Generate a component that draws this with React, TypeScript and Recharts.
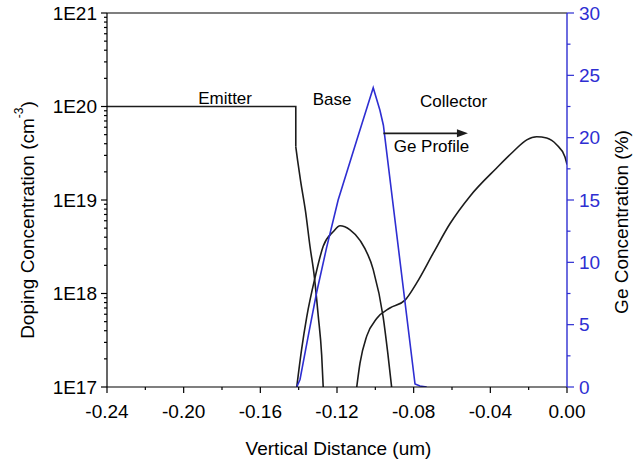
import React from 'react';
import { LineChart, Line, XAxis, YAxis, ReferenceLine, ReferenceDot } from 'recharts';

// doping profiles (x in um, concentration in cm^-3)
const emitterFlatX = [-0.24, -0.1415, -0.1415];
const emitterFlatConc = [1e20, 1e20, 3.7e19];
const emitterTailX = [-0.1415, -0.1405, -0.139, -0.1364, -0.1341, -0.1318, -0.1298, -0.128, -0.1272];
const emitterTailConc = [3.7e19, 2.6e19, 1.6e19, 7.5e18, 3.2e18, 1.5e18, 5.8e17, 2.2e17, 1e17];

const baseX = [-0.141, -0.1385, -0.1358, -0.1315, -0.1272, -0.1219, -0.1184, -0.1132, -0.108, -0.1011, -0.0959, -0.0935, -0.0915];
const baseConc = [1e17, 2.5e17, 5.6e17, 1.47e18, 3.2e18, 4.6e18, 5.3e18, 4.8e18, 3.7e18, 1.8e18, 5.6e17, 2.3e17, 1e17];

const collectorX = [-0.1097, -0.108, -0.1045, -0.0993, -0.0924, -0.0845, -0.0784, -0.0698, -0.061, -0.0506, -0.0367, -0.028, -0.021, -0.0158, -0.0106, -0.0054, -0.0011, 0];
const collectorConc = [1e17, 1.8e17, 3.5e17, 5.4e17, 7.0e17, 8.5e17, 1.3e18, 2.7e18, 5.6e18, 1.1e19, 2.2e19, 3.3e19, 4.4e19, 4.75e19, 4.6e19, 3.9e19, 2.9e19, 2.4e19];

// Ge profile (%)
const geX = [-0.141, -0.1393, -0.135, -0.1306, -0.1254, -0.1194, -0.1097, -0.1011, -0.0976, -0.0958, -0.0793, -0.0767, -0.0732];
const gePct = [0, 0.6, 4.1, 7.6, 11.2, 15, 19.8, 24, 22.2, 21, 0.24, 0.08, 0];

// ticks
const xMajorTicks = [-0.24, -0.2, -0.16, -0.12, -0.08, -0.04, 0];
const xMinorTicks = [-0.22, -0.18, -0.14, -0.1, -0.06, -0.02];
const concMajorTicks = [1e17, 1e18, 1e19, 1e20, 1e21];
const concMinorFactors = [2, 3, 4, 5, 6, 7, 8, 9];
const geMajorTicks = [0, 5, 10, 15, 20, 25, 30];
const geMinorTicks = [2.5, 7.5, 12.5, 17.5, 22.5, 27.5];

// annotations
const noteLabels = ['Emitter', 'Base', 'Collector', 'Ge Profile'];
const noteX = [-0.1784, -0.1226, -0.0592, -0.0707];
const noteConc = [1.23e20, 1.2e20, 1.14e20, 3.73e19];
const arrowX = [-0.0958, -0.0517];
const arrowConc = 5.16e19;

const FONT = '"Liberation Sans", Arial, sans-serif';
const BLUE = '#2e2ed2';
const INK = '#1c1c1c';

const zip = (xs: number[], ys: number[]) => xs.map((x, i) => ({ x, y: ys[i] }));
const emitterFlatData = zip(emitterFlatX, emitterFlatConc);
const emitterTailData = zip(emitterTailX, emitterTailConc);
const baseData = zip(baseX, baseConc);
const collectorData = zip(collectorX, collectorConc);
const geData = zip(geX, gePct);

const concMinorTicks = concMajorTicks.slice(0, -1).flatMap(d => concMinorFactors.map(f => f * d));
const xTicks = [...xMajorTicks, ...xMinorTicks].sort((a, b) => a - b);
const concTicks = [...concMajorTicks, ...concMinorTicks].sort((a, b) => a - b);
const geTicks = [...geMajorTicks, ...geMinorTicks].sort((a, b) => a - b);

const isIn = (list: number[], v: number) => list.some(t => Math.abs(t - v) <= Math.abs(v) * 1e-6 + 1e-9);

const XTick = ({ x, y, payload }: any) => {
    const major = isIn(xMajorTicks, payload.value);
    return (
        <g>
            <line x1={x} y1={y} x2={x} y2={y + (major ? 6 : 3)} stroke="#000" strokeWidth={1.2} />
            {major && (
                <text x={x} y={y + 24} textAnchor="middle" dominantBaseline="central" fontFamily={FONT} fontSize={19} fill="#000">
                    {payload.value.toFixed(2)}
                </text>
            )}
        </g>
    );
};

const ConcTick = ({ x, y, payload }: any) => {
    const major = isIn(concMajorTicks, payload.value);
    return (
        <g>
            <line x1={x} y1={y} x2={x - (major ? 6 : 3)} y2={y} stroke="#000" strokeWidth={1.2} />
            {major && (
                <text x={x - 10} y={y} textAnchor="end" dominantBaseline="central" fontFamily={FONT} fontSize={19} fill="#000">
                    {`1E${Math.round(Math.log10(payload.value))}`}
                </text>
            )}
        </g>
    );
};

const GeTick = ({ x, y, payload }: any) => {
    const major = isIn(geMajorTicks, payload.value);
    return (
        <g>
            <line x1={x} y1={y} x2={x + (major ? 7 : 3.5)} y2={y} stroke={BLUE} strokeWidth={1.2} />
            {major && (
                <text x={x + 12} y={y} textAnchor="start" dominantBaseline="central" fontFamily={FONT} fontSize={19} fill={BLUE}>
                    {payload.value}
                </text>
            )}
        </g>
    );
};

const XTitle = ({ viewBox }: any) => (
    <text x={viewBox.x + viewBox.width / 2 + 1.5} y={viewBox.y + 61} textAnchor="middle" dominantBaseline="central" fontFamily={FONT} fontSize={19} fill="#000">
        Vertical Distance (um)
    </text>
);

const ConcTitle = ({ viewBox }: any) => {
    const cx = viewBox.x + 27;
    const cy = viewBox.y + viewBox.height / 2 + 20;
    return (
        <text x={cx} y={cy} transform={`rotate(-90, ${cx}, ${cy})`} textAnchor="middle" dominantBaseline="central" fontFamily={FONT} fontSize={19} fill="#000">
            Doping Concentration (cm
            <tspan dy={-8} fontSize={12}>-3</tspan>
            <tspan dy={8}>)</tspan>
        </text>
    );
};

const GeTitle = ({ viewBox }: any) => {
    const cx = viewBox.x + 54;
    const cy = viewBox.y + viewBox.height / 2 + 22;
    return (
        <text x={cx} y={cy} transform={`rotate(-90, ${cx}, ${cy})`} textAnchor="middle" dominantBaseline="central" fontFamily={FONT} fontSize={19} fill="#000">
            Ge Concentration (%)
        </text>
    );
};

const Arrow = ({ x1, y1, x2, y2 }: any) => (
    <g>
        <line x1={x1} y1={y1} x2={x2 - 9} y2={y2} stroke={INK} strokeWidth={1.6} />
        <polygon points={`${x2},${y2} ${x2 - 11},${y2 - 4} ${x2 - 11},${y2 + 4}`} fill={INK} />
    </g>
);

const noteShape = (label: string) => ({ cx, cy }: any) => (
    <text x={cx} y={cy} textAnchor="middle" dominantBaseline="central" fontFamily={FONT} fontSize={17} fill="#000">
        {label}
    </text>
);

const App: React.FC = () => (
    <div style={{ position: 'absolute', left: 0, top: 0, background: '#fff' }}>
        <LineChart width={644} height={462} margin={{ top: 13, right: 0, bottom: 0, left: 0 }}>
            <XAxis
                dataKey="x" type="number" domain={[-0.24, 0]} allowDataOverflow
                ticks={xTicks} interval={0} tick={XTick} tickLine={false} tickSize={0} tickMargin={0}
                height={75} axisLine={{ stroke: '#000', strokeWidth: 1.2 }} label={XTitle}
            />
            <YAxis
                yAxisId="left" type="number" scale="log" domain={[1e17, 1e21]} allowDataOverflow
                ticks={concTicks} interval={0} tick={ConcTick} tickLine={false} tickSize={0} tickMargin={0}
                width={107} axisLine={{ stroke: '#000', strokeWidth: 1.2 }} label={ConcTitle}
            />
            <YAxis
                yAxisId="right" orientation="right" type="number" domain={[0, 30]} allowDataOverflow
                ticks={geTicks} interval={0} tick={GeTick} tickLine={false} tickSize={0} tickMargin={0}
                width={77} axisLine={{ stroke: BLUE, strokeWidth: 1.4 }} label={GeTitle}
            />
            <ReferenceLine yAxisId="left" y={1e21} stroke="#000" strokeWidth={1.2} />

            <Line yAxisId="left" data={emitterFlatData} dataKey="y" type="linear" stroke={INK} strokeWidth={1.6} dot={false} isAnimationActive={false} />
            <Line yAxisId="left" data={emitterTailData} dataKey="y" type="monotone" stroke={INK} strokeWidth={1.6} dot={false} isAnimationActive={false} />
            <Line yAxisId="left" data={baseData} dataKey="y" type="monotone" stroke={INK} strokeWidth={1.6} dot={false} isAnimationActive={false} />
            <Line yAxisId="left" data={collectorData} dataKey="y" type="monotone" stroke={INK} strokeWidth={1.6} dot={false} isAnimationActive={false} />
            <Line yAxisId="right" data={geData} dataKey="y" type="linear" stroke={BLUE} strokeWidth={1.6} dot={false} isAnimationActive={false} />

            <ReferenceLine yAxisId="left" segment={[{ x: arrowX[0], y: arrowConc }, { x: arrowX[1], y: arrowConc }]} shape={Arrow} />
            {noteLabels.map((label, i) => (
                <ReferenceDot key={label} yAxisId="left" x={noteX[i]} y={noteConc[i]} r={0} shape={noteShape(label)} />
            ))}
        </LineChart>
    </div>
);

export default App;
